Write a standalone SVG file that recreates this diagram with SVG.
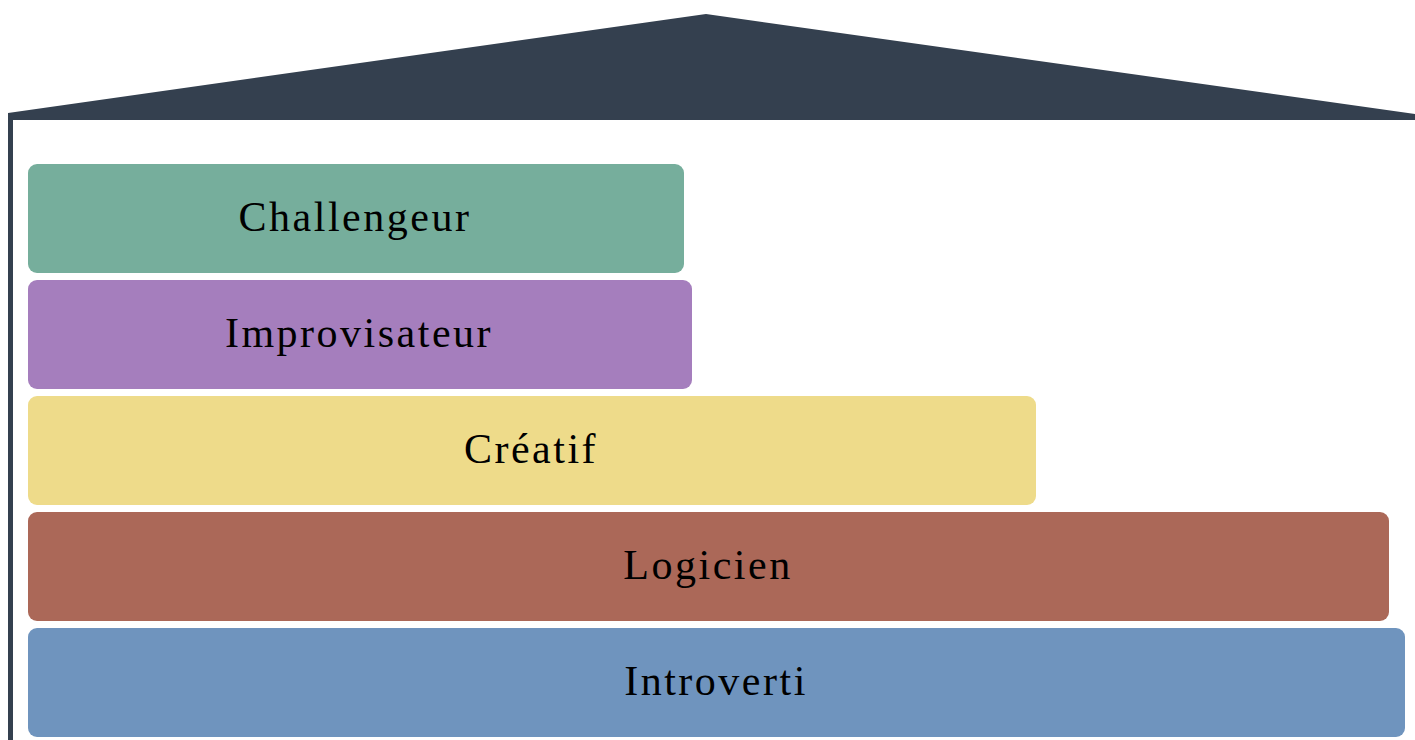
<svg xmlns="http://www.w3.org/2000/svg" width="1415" height="740" viewBox="0 0 1415 740">
<style>
.lbl{font-family:"Liberation Serif","Times New Roman",serif;font-size:42px;letter-spacing:2.5px;fill:#000;text-anchor:middle}
.roof{fill:#34404F}
</style>
<rect width="1415" height="740" fill="#fff"/>
<g id="house">
<polygon class="roof" points="8,113 706,14 1415,114 1415,120 8,120"/>
<rect class="roof" x="8" y="113" width="5" height="627"/>
</g>
<g id="challengeur">
<rect x="28" y="164" width="656" height="109" rx="9" fill="#76AE9C"/>
<text class="lbl" x="355" y="231">Challengeur</text>
</g>
<g id="improvisateur">
<rect x="28" y="280" width="664" height="109" rx="9" fill="#A57EBD"/>
<text class="lbl" x="359" y="347">Improvisateur</text>
</g>
<g id="creatif">
<rect x="28" y="396" width="1008" height="109" rx="9" fill="#EEDB8A"/>
<text class="lbl" x="531" y="463">Créatif</text>
</g>
<g id="logicien">
<rect x="28" y="512" width="1361" height="109" rx="9" fill="#AB6858"/>
<text class="lbl" x="708" y="579">Logicien</text>
</g>
<g id="introverti">
<rect x="28" y="628" width="1377" height="109" rx="9" fill="#6F94BE"/>
<text class="lbl" x="716" y="695">Introverti</text>
</g>
<g id="connectors"/>
</svg>
